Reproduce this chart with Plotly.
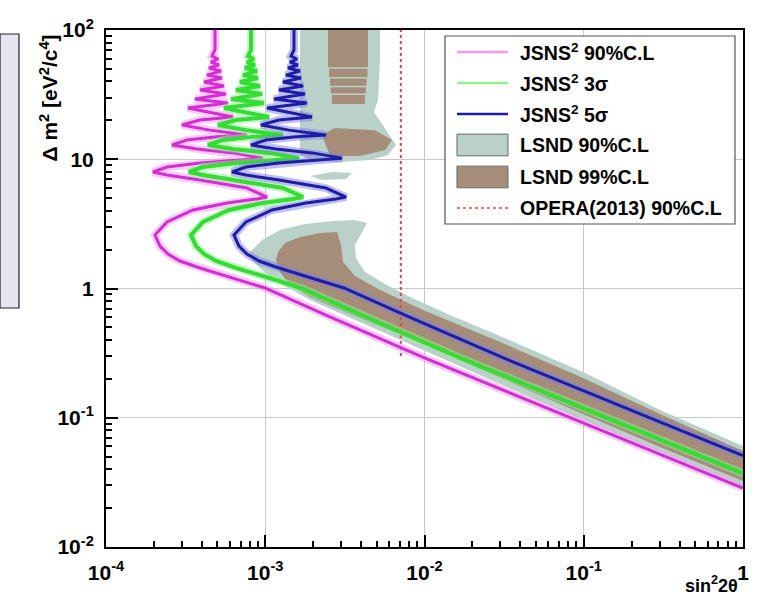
import plotly.graph_objects as go

# ---------------------------------------------------------------------------
# JSNS^2 sensitivity contours : sin^2(2theta) vs Delta m^2 [eV^2/c^4]
# ---------------------------------------------------------------------------
jsns_90_s2t = [4.835e-4, 4.835e-4, 4.63e-4, 5.05e-4, 4.564e-4, 5.122e-4, 4.433e-4, 5.273e-4,
               4.306e-4, 5.35e-4, 4.124e-4, 5.508e-4, 3.892e-4, 5.669e-4, 3.62e-4, 5.836e-4,
               3.272e-4, 4.306e-4, 6.274e-4, 3.892e-4, 3.0e-4, 4.498e-4, 7.679e-4, 4.977e-4,
               3.225e-4, 2.596e-4, 3.727e-4, 6.274e-4, 9.681e-4, 6.94e-4, 3.892e-4, 2.415e-4,
               1.972e-4, 2.415e-4, 3.892e-4, 7.679e-4, 1.026e-3, 8.874e-4, 5.752e-4, 3.517e-4,
               2.415e-4, 2.031e-4, 2.183e-4, 2.45e-4, 2.915e-4, 3.892e-4, 6.007e-4, 9.963e-4,
               2.55e-3, 1.0e-2, 0.1, 1.0]
jsns_90_dm2 = [100, 70.0, 62.9, 59.6, 56.5, 53.6, 50.8, 48.2,
               44.8, 42.5, 39.6, 36.9, 34.3, 32.0, 29.2, 27.2,
               24.9, 23.2, 21.2, 20.1, 18.4, 16.8, 15.4, 14.9,
               14.1, 12.9, 12.0, 11.2, 10.2, 9.87, 9.35, 8.71,
               7.97, 7.55, 6.91, 5.99, 5.10, 4.93, 4.59, 4.05,
               3.27, 2.59, 2.13, 1.849, 1.632, 1.441, 1.227, 1.009,
               0.602, 0.29, 0.091, 0.0286]

jsns_3s_s2t = [8.137e-4, 8.137e-4, 7.792e-4, 8.499e-4, 7.681e-4, 8.62e-4, 7.461e-4, 8.874e-4,
               7.247e-4, 9.004e-4, 6.941e-4, 9.27e-4, 6.55e-4, 9.541e-4, 6.092e-4, 9.822e-4,
               5.507e-4, 7.247e-4, 1.056e-3, 6.55e-4, 5.049e-4, 7.57e-4, 1.292e-3, 8.376e-4,
               5.428e-4, 4.369e-4, 6.273e-4, 1.056e-3, 1.629e-3, 1.168e-3, 6.55e-4, 4.064e-4,
               3.319e-4, 4.064e-4, 6.55e-4, 1.292e-3, 1.727e-3, 1.493e-3, 9.681e-4, 5.919e-4,
               4.064e-4, 3.418e-4, 3.674e-4, 4.123e-4, 4.906e-4, 6.55e-4, 1.011e-3, 1.677e-3,
               4.292e-3, 1.683e-2, 0.1683, 1.0]
jsns_3s_dm2 = [100, 70.0, 62.9, 59.6, 56.5, 53.6, 50.8, 48.2,
               44.8, 42.5, 39.6, 36.9, 34.3, 32.0, 29.2, 27.2,
               24.9, 23.2, 21.2, 20.1, 18.4, 16.8, 15.4, 14.9,
               14.1, 12.9, 12.0, 11.2, 10.2, 9.87, 9.35, 8.71,
               7.97, 7.55, 6.91, 5.99, 5.10, 4.93, 4.59, 4.05,
               3.27, 2.59, 2.13, 1.849, 1.632, 1.441, 1.227, 1.009,
               0.602, 0.29, 0.091, 0.0371]

jsns_5s_s2t = [1.515e-3, 1.515e-3, 1.451e-3, 1.582e-3, 1.43e-3, 1.605e-3, 1.389e-3, 1.652e-3,
               1.349e-3, 1.676e-3, 1.292e-3, 1.726e-3, 1.219e-3, 1.776e-3, 1.134e-3, 1.828e-3,
               1.025e-3, 1.349e-3, 1.966e-3, 1.219e-3, 9.399e-4, 1.409e-3, 2.406e-3, 1.559e-3,
               1.01e-3, 8.133e-4, 1.168e-3, 1.966e-3, 3.033e-3, 2.174e-3, 1.219e-3, 7.566e-4,
               6.178e-4, 7.566e-4, 1.219e-3, 2.406e-3, 3.214e-3, 2.78e-3, 1.802e-3, 1.102e-3,
               7.566e-4, 6.363e-4, 6.839e-4, 7.676e-4, 9.133e-4, 1.219e-3, 1.882e-3, 3.121e-3,
               7.989e-3, 3.133e-2, 0.3133, 1.0]
jsns_5s_dm2 = [100, 70.0, 62.9, 59.6, 56.5, 53.6, 50.8, 48.2,
               44.8, 42.5, 39.6, 36.9, 34.3, 32.0, 29.2, 27.2,
               24.9, 23.2, 21.2, 20.1, 18.4, 16.8, 15.4, 14.9,
               14.1, 12.9, 12.0, 11.2, 10.2, 9.87, 9.35, 8.71,
               7.97, 7.55, 6.91, 5.99, 5.10, 4.93, 4.59, 4.05,
               3.27, 2.59, 2.13, 1.849, 1.632, 1.441, 1.227, 1.009,
               0.602, 0.29, 0.091, 0.0509]

# ---------------------------------------------------------------------------
# LSND allowed regions (closed contours, pieces separated by None)
# ---------------------------------------------------------------------------
lsnd_90_s2t = [1.653e-3, 5.255e-3, 5.255e-3, 5.105e-3, 4.818e-3, 5.649e-3, 6.622e-3, 5.899e-3,
               4.547e-3, 2.947e-3, 1.910e-3, 1.653e-3, None,
               1.910e-3, 2.625e-3, 3.504e-3, 3.214e-3, 2.272e-3, 1.910e-3, None,
               8.02e-4, 9.541e-4, 1.238e-3, 1.777e-3, 2.664e-3, 3.66e-3, 4.354e-3, 4.05e-3,
               3.66e-3, 3.714e-3, 4.23e-3, 5.649e-3, 8.11e-3, 1.446e-2, 2.979e-2, 0.0989,
               0.3012, 1.0, 1.0, 0.3012, 0.0989, 2.979e-2, 9.79e-3, 3.936e-3,
               1.910e-3, 1.238e-3, 9.541e-4, 8.256e-4, 8.02e-4]
lsnd_90_dm2 = [100, 100, 58.6, 28.7, 23.2, 17.45, 12.9, 10.79,
               9.87, 9.52, 9.87, 10.79, None,
               7.42, 7.97, 7.83, 7.04, 6.91, 7.42, None,
               1.916, 2.373, 2.836, 3.155, 3.328, 3.388, 3.212, 2.736,
               2.17, 1.722, 1.341, 1.083, 0.8594, 0.6237, 0.4291, 0.2259,
               0.1148, 0.0605, 0.02965, 0.0543, 0.0961, 0.1824, 0.3343, 0.5506,
               0.8147, 1.103, 1.39, 1.662, 1.916]

lsnd_99_s2t = [2.477e-3, 4.417e-3, 4.417e-3, 2.477e-3, 2.477e-3, None,
               2.52e-3, 4.38e-3, 4.38e-3, 2.52e-3, 2.52e-3, None,
               2.55e-3, 4.33e-3, 4.33e-3, 2.55e-3, 2.55e-3, None,
               2.58e-3, 4.28e-3, 4.28e-3, 2.58e-3, 2.58e-3, None,
               2.62e-3, 4.22e-3, 4.22e-3, 2.62e-3, 2.62e-3, None,
               2.272e-3, 2.742e-3, 4.888e-3, 6.25e-3, 5.649e-3, 3.936e-3, 2.55e-3, 2.272e-3, None,
               1.202e-3, 1.33e-3, 1.653e-3, 2.207e-3, 2.822e-3, 2.99e-3, 3.078e-3, 3.66e-3,
               5.255e-3, 9.79e-3, 2.979e-2, 0.0989, 0.3012, 1.0,
               1.0, 0.3012, 0.0989, 2.979e-2, 9.79e-3, 3.404e-3, 1.910e-3, 1.43e-3,
               1.238e-3, 1.168e-3, 1.202e-3]
lsnd_99_dm2 = [100, 100, 51.5, 51.5, 100, None,
               50.2, 50.2, 43.3, 43.3, 50.2, None,
               42.2, 42.2, 37.0, 37.0, 42.2, None,
               36.0, 36.0, 32.2, 32.2, 36.0, None,
               31.4, 31.4, 26.8, 26.8, 31.4, None,
               15.4, 17.45, 16.8, 14.1, 11.79, 10.6, 10.6, 15.4, None,
               1.916, 2.249, 2.503, 2.688, 2.736, 2.17, 1.603, 1.249,
               0.9736, 0.6818, 0.3855, 0.203, 0.1069, 0.0553,
               0.0324, 0.0594, 0.1069, 0.203, 0.372, 0.635, 0.8594, 1.064,
               1.341, 1.662, 1.916]

# OPERA (2013) 90% C.L. limit
opera_s2t = [7.1e-3, 7.1e-3]
opera_dm2 = [0.3, 100]

# Axis ticks
x_tick_vals = [1e-4, 1e-3, 1e-2, 1e-1, 1]
x_tick_text = ["10<sup>-4</sup>", "10<sup>-3</sup>", "10<sup>-2</sup>", "10<sup>-1</sup>", "1"]
y_tick_vals = [1e-2, 1e-1, 1, 10, 100]
y_tick_text = ["10<sup>-2</sup>", "10<sup>-1</sup>", "1", "10", "10<sup>2</sup>"]
x_minor_vals = [k * 10.0 ** e for e in range(-4, 0) for k in range(2, 10)]
y_minor_vals = [k * 10.0 ** e for e in range(-2, 2) for k in range(2, 10)]

# Legend entries
legend_labels = ["JSNS<sup>2</sup> 90%C.L", "JSNS<sup>2</sup> 3σ", "JSNS<sup>2</sup> 5σ",
                 "LSND 90%C.L", "LSND 99%C.L", "OPERA(2013) 90%C.L"]

FONT = "Liberation Sans, Arial, Helvetica, sans-serif"
TEAL = "#b9d1c9"
BROWN = "#a68d79"
MAGENTA, MAGENTA_HALO = "#d62cd6", "#f29af2"
GREEN, GREEN_HALO = "#33dd33", "#95f095"
BLUE, BLUE_HALO = "#1d1da8", "#8080dd"
OPERA_RED = "#e04848"

fig = go.Figure()

fig.add_trace(go.Scatter(x=lsnd_90_s2t, y=lsnd_90_dm2, mode="lines", fill="toself",
                         fillcolor=TEAL, line=dict(width=0, color=TEAL),
                         hoverinfo="skip", showlegend=False))
fig.add_trace(go.Scatter(x=lsnd_99_s2t, y=lsnd_99_dm2, mode="lines", fill="toself",
                         fillcolor=BROWN, line=dict(width=0, color=BROWN),
                         hoverinfo="skip", showlegend=False))
fig.add_trace(go.Scatter(x=opera_s2t, y=opera_dm2, mode="lines",
                         line=dict(color=OPERA_RED, width=2, dash="dot"),
                         hoverinfo="skip", showlegend=False))

for xs, ys, col, halo, w in [(jsns_90_s2t, jsns_90_dm2, MAGENTA, MAGENTA_HALO, 3),
                             (jsns_3s_s2t, jsns_3s_dm2, GREEN, GREEN_HALO, 4),
                             (jsns_5s_s2t, jsns_5s_dm2, BLUE, BLUE_HALO, 3)]:
    fig.add_trace(go.Scatter(x=xs, y=ys, mode="lines", line=dict(color=halo, width=8),
                             opacity=0.5, hoverinfo="skip", showlegend=False))
    fig.add_trace(go.Scatter(x=xs, y=ys, mode="lines", line=dict(color=col, width=w),
                             hoverinfo="skip", showlegend=False))

axis_common = dict(
    type="log", tickmode="array", ticks="inside", ticklen=12, tickwidth=1.5,
    tickcolor="black", showline=True, linecolor="black", linewidth=2, mirror=True,
    showgrid=True, gridcolor="#c8c8c8", gridwidth=1, zeroline=False,
    tickfont=dict(family=FONT, size=21, color="black", weight="bold"),
)
fig.update_layout(
    width=760, height=599,
    margin=dict(l=106, r=17, t=30, b=52),
    paper_bgcolor="white", plot_bgcolor="white",
    showlegend=False,
    xaxis=dict(axis_common, range=[-4, 0], tickvals=x_tick_vals, ticktext=x_tick_text,
               ticklabelstandoff=6,
               minor=dict(tickmode="array", tickvals=x_minor_vals, ticks="inside",
                          ticklen=6, tickcolor="black", showgrid=False)),
    yaxis=dict(axis_common, range=[-2, 2], tickvals=y_tick_vals, ticktext=y_tick_text,
               ticklabelstandoff=6,
               minor=dict(tickmode="array", tickvals=y_minor_vals, ticks="inside",
                          ticklen=6, tickcolor="black", showgrid=False)),
)

# Axis titles in ROOT placement (right / top aligned)
fig.add_annotation(text="sin<sup>2</sup>2θ", xref="paper", yref="paper", x=0.995, y=-0.073,
                   xanchor="right", yanchor="middle", showarrow=False,
                   font=dict(family=FONT, size=18, color="black", weight="bold"))
fig.add_annotation(text="Δ m<sup>2</sup> [eV<sup>2</sup>/c<sup>4</sup>]", xref="paper", yref="paper",
                   x=-0.091, y=0.8675, xanchor="center", yanchor="middle", textangle=-90,
                   showarrow=False, font=dict(family=FONT, size=21, color="black", weight="bold"))

# Side panel box
fig.add_shape(type="rect", xref="paper", yref="paper", x0=-0.1664, x1=-0.1366, y0=0.4623, y1=0.9923,
              fillcolor="#e8e4f1", line=dict(color="#222222", width=1.2))

# Legend box
fig.add_shape(type="rect", xref="paper", yref="paper", x0=0.5322, x1=0.9874, y0=0.6248, y1=0.9884,
              fillcolor="white", line=dict(color="#555555", width=1.2))
row_y = [0.9574, 0.8975, 0.8375, 0.7776, 0.7157, 0.6557]
sx0, sx1 = 0.5510, 0.6311
line_styles = [(MAGENTA_HALO, "solid"), (GREEN_HALO, "solid"), (BLUE, "solid")]
for i, (c, d) in enumerate(line_styles):
    fig.add_shape(type="line", xref="paper", yref="paper", x0=sx0, x1=sx1, y0=row_y[i], y1=row_y[i],
                  line=dict(color=c, width=2.5, dash=d))
for i, c in [(3, TEAL), (4, BROWN)]:
    fig.add_shape(type="rect", xref="paper", yref="paper", x0=sx0, x1=sx1,
                  y0=row_y[i] - 0.021, y1=row_y[i] + 0.021,
                  fillcolor=c, line=dict(color="#6a6a6a", width=1))
fig.add_shape(type="line", xref="paper", yref="paper", x0=sx0, x1=sx1, y0=row_y[5], y1=row_y[5],
              line=dict(color=OPERA_RED, width=1.5, dash="dot"))
for i, lab in enumerate(legend_labels):
    fig.add_annotation(text=lab, xref="paper", yref="paper", x=0.6468, y=row_y[i],
                       xanchor="left", yanchor="middle", showarrow=False,
                       font=dict(family=FONT, size=19.5, color="black", weight="bold"))

fig.write_html("out.html")
